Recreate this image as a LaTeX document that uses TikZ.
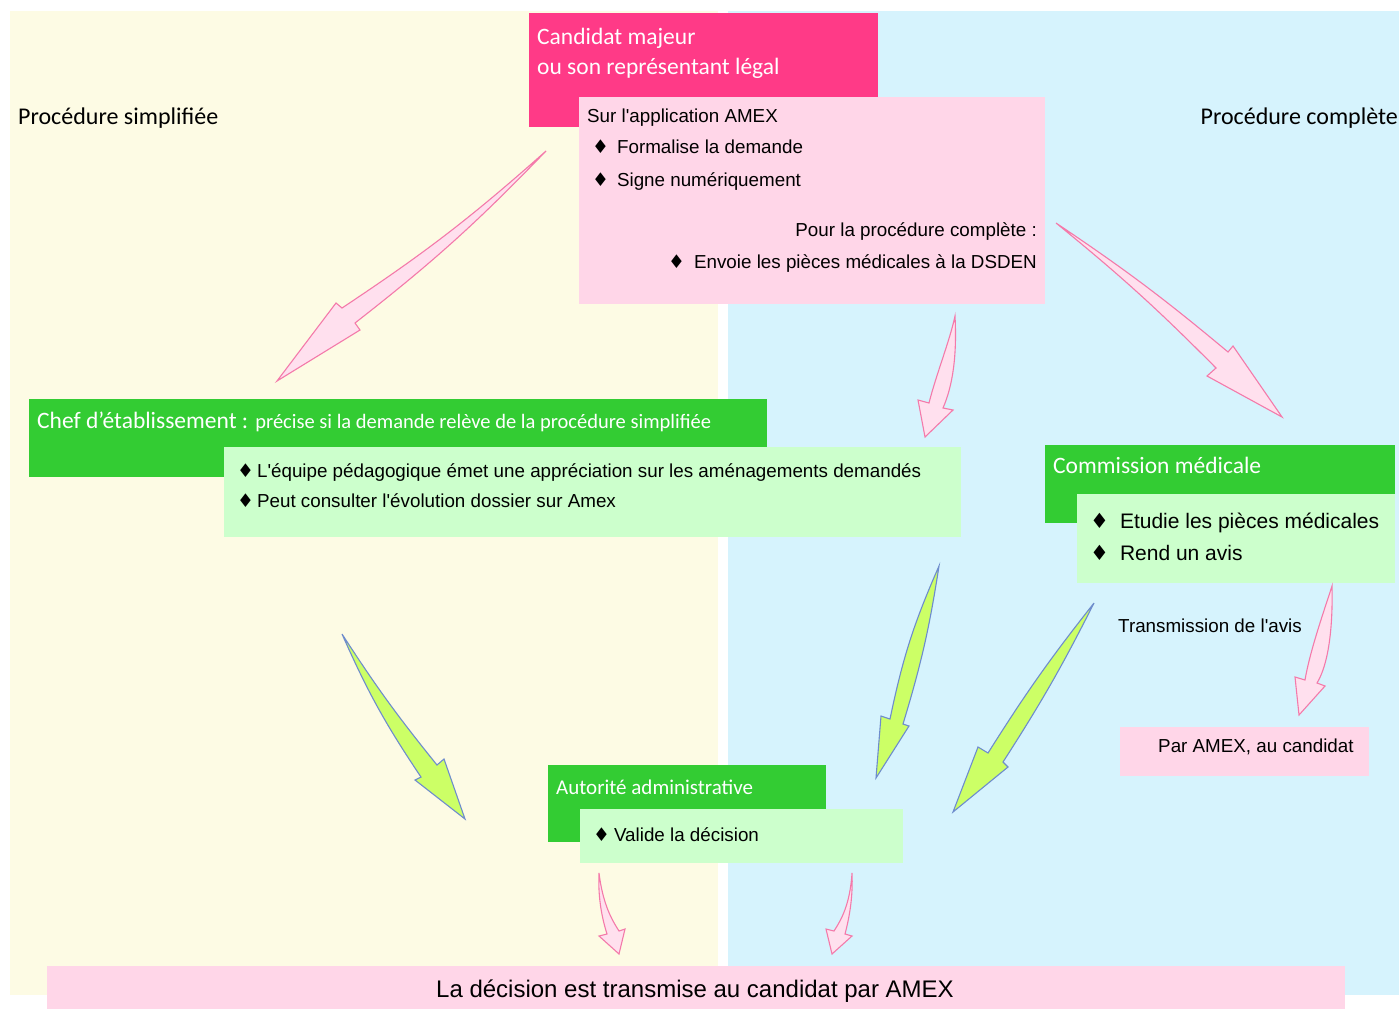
\documentclass[tikz,border=0pt]{standalone}
\usepackage{fontspec}
\newfontfamily\bodyfont{Liberation Sans}
\newfontfamily\calfont{Carlito}
\newfontfamily\djfont{DejaVu Sans}
\definecolor{bgyellow}{RGB}{253,251,228}
\definecolor{bgblue}{RGB}{214,243,253}
\definecolor{magentabox}{RGB}{255,58,135}
\definecolor{pinkbox}{RGB}{255,214,232}
\definecolor{greenbox}{RGB}{51,204,51}
\definecolor{lightgreen}{RGB}{204,255,204}
\definecolor{arrowpink}{RGB}{255,224,238}
\definecolor{arrowpinkline}{RGB}{244,122,170}
\definecolor{arrowgreen}{RGB}{204,255,102}
\definecolor{arrowgreenline}{RGB}{110,140,205}
\newcommand{\dia}{{\djfont ♦}}
\tikzset{
  txt/.style={inner sep=0pt, anchor=base west, text=black, font=\bodyfont\fontsize{18.8}{21}\selectfont},
  title/.style={inner sep=0pt, anchor=base west, text=white, font=\calfont\fontsize{23.5}{26}\selectfont},
  pinkarrow/.style={fill=arrowpink, draw=arrowpinkline, line width=1.1pt, line join=miter},
  greenarrow/.style={fill=arrowgreen, draw=arrowgreenline, line width=1.1pt, line join=miter}
}
\begin{document}
\begin{tikzpicture}[x=1pt,y=-1pt]
\useasboundingbox (0,0) rectangle (1399,1009);
% backgrounds
\fill[bgyellow] (10,11) rectangle (718,995);
\fill[bgblue] (728,11) rectangle (1399,995);
% boxes
\fill[magentabox] (529,13) rectangle (878,127);
\fill[pinkbox] (579,97) rectangle (1045,304);
\fill[greenbox] (29,399) rectangle (767,477);
\fill[lightgreen] (224,447) rectangle (961,537);
\fill[greenbox] (1045,445) rectangle (1395,523);
\fill[lightgreen] (1077,494) rectangle (1395,583);
\fill[pinkbox] (1120,727) rectangle (1369,776);
\fill[greenbox] (548,765) rectangle (826,842);
\fill[lightgreen] (580,809) rectangle (903,863);
\fill[pinkbox] (47,966) rectangle (1345,1009);

% texts
\node[title] (cand1) at (537,44) {Candidat majeur};
\node[title] (cand2) at (537,74) {ou son représentant légal};
\node[title, text=black, font=\calfont\fontsize{24}{26}\selectfont] (simpl) at (18,124) {Procédure simplifiée};
\node[title, text=black, anchor=base east, font=\calfont\fontsize{24}{26}\selectfont] (compl) at (1398,124) {Procédure complète};
\node[txt] (sur) at (587,122.5) {Sur l'application AMEX};
\node[txt] (form) at (592,153.5) {\dia\hspace{8pt}Formalise la demande};
\node[txt] (signe) at (592,186.5) {\dia\hspace{8pt}Signe numériquement};
\node[txt, anchor=base east] (pour) at (1037,236.5) {Pour la procédure complète :};
\node[txt, anchor=base east] (envoie) at (1037,268.5) {\dia\hspace{9pt}Envoie les pièces médicales à la DSDEN};
\node[title] (chef) at (37,428) {Chef d’établissement : {\fontsize{20.5}{22}\selectfont précise si la demande relève de la procédure simplifiée}};
\node[txt] (equipe) at (237,477.5) {\dia\hspace{3pt}L'équipe pédagogique émet une appréciation sur les aménagements demandés};
\node[txt] (peut) at (237,507.5) {\dia\hspace{3pt}Peut consulter l'évolution dossier sur Amex};
\node[title] (comm) at (1053,473) {Commission médicale};
\node[txt, font=\bodyfont\fontsize{21}{23}\selectfont] (etud) at (1090,528.5) {\dia\hspace{11pt}Etudie les pièces médicales};
\node[txt, font=\bodyfont\fontsize{21}{23}\selectfont] (rend) at (1090,560.5) {\dia\hspace{11pt}Rend un avis};
\node[txt] (trans) at (1118,632.5) {Transmission de l'avis};
\node[txt] (paramex) at (1158,752.5) {Par AMEX, au candidat};
\node[title, font=\calfont\fontsize{21}{23}\selectfont] (auto) at (556,794) {Autorité administrative};
\node[txt] (valide) at (593,841.5) {\dia\hspace{4pt}Valide la décision};
\node[txt, anchor=base, font=\bodyfont\fontsize{24}{26}\selectfont] (final) at (695,997) {La décision est transmise au candidat par AMEX};

% arrows
\draw[pinkarrow] (546,151) to[bend left=4] (342,308) -- (336,303) -- (277,381) -- (360,330) -- (355,323) to[bend right=4] cycle;
\draw[pinkarrow] (1056,223) to[bend left=3] (1228,352) -- (1233,346) -- (1282,417) -- (1207,376) -- (1216,368) to[bend right=3] cycle;
\draw[pinkarrow] (955,316) .. controls (957,355) and (953,385) .. (943,408) -- (953,410) -- (925,437) -- (918,400) -- (929,403) .. controls (936,375) and (950,340) .. cycle;
\draw[pinkarrow] (1332,586) .. controls (1333,630) and (1328,665) .. (1317,683) -- (1325,686) -- (1299,715) -- (1295,677) -- (1305,680) .. controls (1310,650) and (1326,605) .. cycle;
\draw[pinkarrow] (599,873) .. controls (603,905) and (612,920) .. (619,931) -- (625,929) -- (619,954) -- (599,936) -- (607,934) .. controls (601,915) and (598,895) .. cycle;
\draw[pinkarrow] (852,873) .. controls (853,895) and (850,915) .. (845,934) -- (852,936) -- (832,954) -- (826,929) -- (834,931) .. controls (841,920) and (850,905) .. cycle;
\draw[greenarrow] (342,634) to[bend right=3] (437,765) -- (444,759) -- (465,819) -- (415,780) -- (421,777) to[bend left=5] cycle;
\draw[greenarrow] (939,566) to[bend left=4] (903,724) -- (909,726) -- (876,778) -- (881,716) -- (890,719) to[bend left=6] cycle;
\draw[greenarrow] (1094,603) to[bend left=3] (1003,762) -- (1008,767) -- (953,812) -- (978,747) -- (988,753) to[bend left=3] cycle;
\end{tikzpicture}
\end{document}
